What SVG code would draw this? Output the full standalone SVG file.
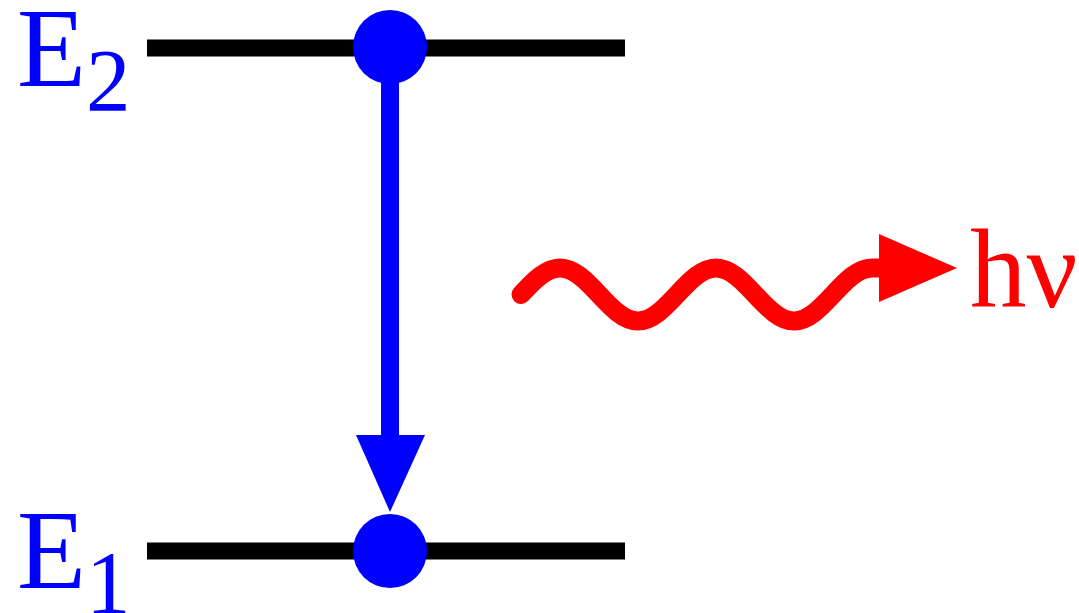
<svg xmlns="http://www.w3.org/2000/svg" width="1079" height="613" viewBox="0 0 1079 613">
<style>
.level{stroke:#000;stroke-width:17;fill:none}
.lbl{font-family:"Liberation Serif","Times New Roman",serif;font-size:113px}
.blue{fill:#0000ff}
.red{fill:#ff0000}
</style>
<rect width="1079" height="613" fill="#fff"/>
<g id="level-E2">
<line class="level" x1="147" y1="48" x2="625" y2="48"/>
<text class="lbl blue" x="17" y="86">E<tspan font-size="89" dy="24">2</tspan></text>
</g>
<g id="level-E1">
<line class="level" x1="147" y1="551" x2="625" y2="551"/>
<text class="lbl blue" x="17" y="588">E<tspan font-size="89" dy="24">1</tspan></text>
</g>
<g id="photon-label">
<text class="lbl red" x="970" y="307">hν</text>
</g>
<g id="connectors">
<line x1="390" y1="50" x2="390" y2="440" stroke="#0000ff" stroke-width="18"/>
<polygon class="blue" points="356,435 425,435 390,512"/>
<path d="M521,294.5 C533.7,280.9 545.9,268 560,268 S586.3,280.9 599,294.5 S623.9,321 638,321 S664.3,308.1 677,294.5 S701.9,268 716,268 S742.3,280.9 755,294.5 S779.9,321 794,321 S820.3,308.1 833,294.5 S857.9,268 872,268 L885,268" fill="none" stroke="#ff0000" stroke-width="19" stroke-linecap="round"/>
<polygon class="red" points="879,234 879,302 957,268"/>
</g>
<g id="electron-upper">
<circle class="blue" cx="390" cy="47" r="37"/>
</g>
<g id="electron-lower">
<circle class="blue" cx="390" cy="551" r="37"/>
</g>
</svg>
